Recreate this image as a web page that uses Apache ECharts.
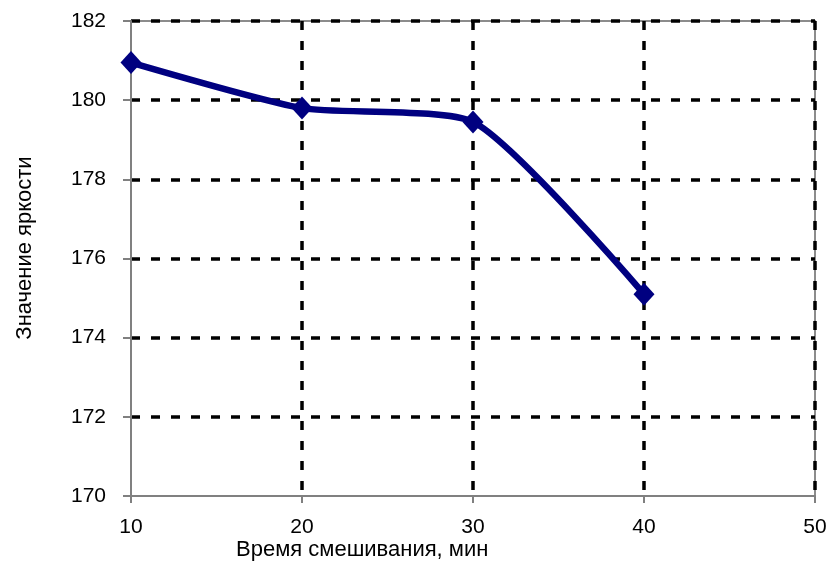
<!DOCTYPE html>
<html>
<head>
<meta charset="utf-8">
<script src="https://cdn.jsdelivr.net/npm/echarts@6/dist/echarts.min.js"></script>
<style>
  html, body { margin: 0; padding: 0; background: #fff; }
  #chart { width: 830px; height: 572px; }
</style>
</head>
<body>
<div id="chart"></div>
<script>
// Mixing time (min) and measured brightness
const mixTime = [10, 20, 30, 40];
const brightness = [180.95, 179.8, 179.45, 175.1];

const xTitle = 'Время смешивания, мин';
const yTitle = 'Значение яркости';

const FONT = '"Liberation Sans", Arial, sans-serif';

const chart = echarts.init(document.getElementById('chart'));

const gridDash = { color: '#000', width: 3.5, type: [9, 11] };

chart.setOption({
  backgroundColor: '#fff',
  animation: false,
  grid: {
    left: 131, right: 15, top: 21, bottom: 76,
    show: true, borderColor: '#8c8c8c', borderWidth: 2, backgroundColor: 'transparent'
  },
  xAxis: {
    type: 'value',
    min: 10, max: 50, interval: 10,
    axisLine: { show: true, lineStyle: { color: '#808080', width: 2 } },
    axisTick: { show: true, inside: false, length: 7, lineStyle: { color: '#808080', width: 2 } },
    axisLabel: { color: '#000', fontFamily: FONT, fontSize: 21, margin: 21 },
    splitLine: { show: true, showMinLine: false, lineStyle: gridDash }
  },
  yAxis: {
    type: 'value',
    min: 170, max: 182, interval: 2,
    axisLine: { show: true, lineStyle: { color: '#808080', width: 2 } },
    axisTick: { show: true, inside: false, length: 8, lineStyle: { color: '#808080', width: 2 } },
    axisLabel: { color: '#000', fontFamily: FONT, fontSize: 21, margin: 25 },
    splitLine: { show: true, showMinLine: false, lineStyle: gridDash }
  },
  graphic: [
    {
      type: 'text', left: 236, top: 539,
      style: { text: xTitle, fill: '#000', font: '22px ' + FONT }
    },
    {
      type: 'text',
      x: 25, y: 248,
      rotation: Math.PI / 2,
      style: { text: yTitle, fill: '#000', font: '22px ' + FONT, align: 'center', verticalAlign: 'middle' }
    }
  ],
  series: [{
    type: 'line',
    data: mixTime.map((t, i) => [t, brightness[i]]),
    smooth: 0.2,
    lineStyle: { color: '#000080', width: 6.5 },
    itemStyle: { color: '#000080' },
    symbol: 'diamond',
    symbolSize: [21, 23],
    z: 5
  }]
});
</script>
</body>
</html>
